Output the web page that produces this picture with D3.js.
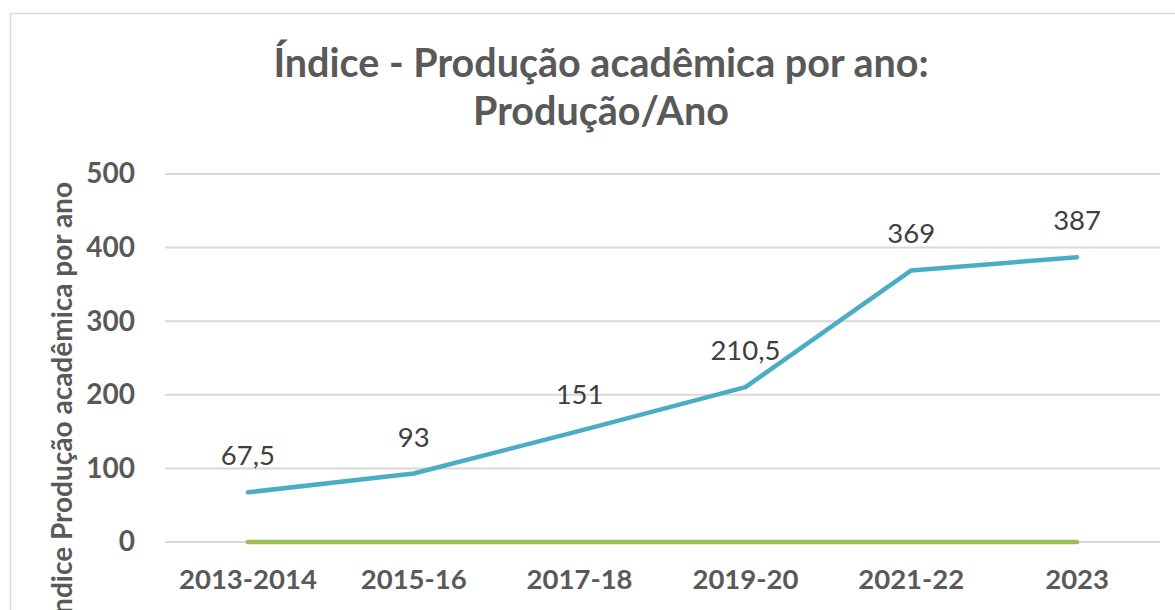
<!DOCTYPE html>
<html><head><meta charset="utf-8">
<script src="https://cdn.jsdelivr.net/npm/d3@7"></script>
<style>body{margin:0;background:#fff}svg{display:block}</style>
</head><body>
<script>
const categories = ["2013-2014","2015-16","2017-18","2019-20","2021-22","2023"];
const producao = [67.5, 93, 151, 210.5, 369, 387];
const baseline = [0, 0, 0, 0, 0, 0];
const labels = ["67,5","93","151","210,5","369","387"];
const yTicks = [0,100,200,300,400,500];
const titleLines = ["Índice - Produção acadêmica por ano:", "Produção/Ano"];
const yTitle = "Índice Produção acadêmica por ano";

const W = 1175, H = 610;
const svg = d3.select("body").append("svg").attr("width", W).attr("height", H);
const font = "Lato, 'Open Sans', sans-serif";

svg.append("rect").attr("x",10.5).attr("y",13.5).attr("width",W).attr("height",H)
  .attr("fill","none").attr("stroke","#d9d9d9").attr("stroke-width",1.5);

const x = d3.scaleBand().domain(categories).range([165,1160]);
const y = d3.scaleLinear().domain([0,500]).range([542,174]);

// gridlines
svg.append("g").selectAll("line").data(yTicks).join("line")
  .attr("x1",165).attr("x2",1160)
  .attr("y1",d=>y(d)).attr("y2",d=>y(d))
  .attr("stroke","#d9d9d9").attr("stroke-width",2);

// y axis labels
const yAxis = svg.append("g").attr("transform","translate(150,0)")
  .call(d3.axisLeft(y).tickValues(yTicks).tickSize(0).tickPadding(15));
yAxis.select(".domain").remove();
yAxis.selectAll("text").attr("font-family",font).attr("font-weight","bold")
  .attr("font-size",28).attr("fill","#595959");

// x axis labels
const xAxis = svg.append("g").attr("transform","translate(0,559)")
  .call(d3.axisBottom(x).tickSize(0).tickPadding(0));
xAxis.select(".domain").remove();
xAxis.selectAll("text").attr("font-family",font).attr("font-weight","bold")
  .attr("font-size",27.5).attr("fill","#595959").attr("dy","1.1em");

const cx = d => x(d) + x.bandwidth()/2;
const line = d3.line().x((d,i)=>cx(categories[i])).y(d=>y(d));

svg.append("path").datum(baseline).attr("d",line).attr("fill","none")
  .attr("stroke","#9bbb59").attr("stroke-width",4.5).attr("stroke-linecap","round");
svg.append("path").datum(producao).attr("d",line).attr("fill","none")
  .attr("stroke","#4bacc6").attr("stroke-width",4.5).attr("stroke-linecap","round")
  .attr("stroke-linejoin","round");

// data labels
svg.append("g").selectAll("text").data(producao).join("text")
  .attr("x",(d,i)=>cx(categories[i])).attr("y",d=>y(d)-27)
  .attr("text-anchor","middle").attr("font-family",font).attr("font-size",27.5)
  .attr("fill","#404040").text((d,i)=>labels[i]);

// title
svg.append("g").selectAll("text").data(titleLines).join("text")
  .attr("x",601).attr("y",(d,i)=>77+i*48).attr("text-anchor","middle")
  .attr("font-family",font).attr("font-weight","bold").attr("font-size",39.5)
  .attr("fill","#595959").text(d=>d);

// y title
svg.append("text").attr("transform","translate(72,182) rotate(-90)")
  .attr("text-anchor","end").attr("font-family",font).attr("font-weight","bold")
  .attr("font-size",28).attr("fill","#595959").text(yTitle);
</script>
</body></html>
